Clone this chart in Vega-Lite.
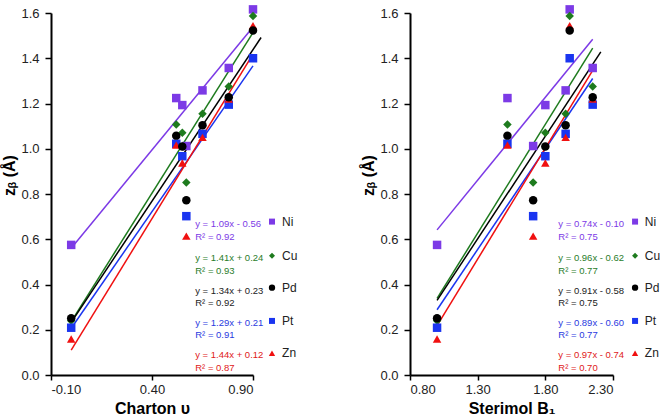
{
  "$schema": "https://vega.github.io/schema/vega-lite/v6.json",
  "padding": {"left": 1, "top": 5, "right": 0, "bottom": 0},
  "config": {
    "view": {"stroke": null},
    "font": "Liberation Sans",
    "axis": {"domainColor": "#000", "domainWidth": 2, "tickColor": "#000", "tickWidth": 1.5, "tickSize": 6, "labelFontSize": 13, "labelColor": "#222", "labelPadding": 4, "titleFontSize": 16, "titleFontWeight": "bold", "titleColor": "#000", "grid": false},
    "text": {"font": "Liberation Sans"}
  },
  "datasets": {
    "pts": [
      {"metal": "Ni", "charton": 0.00, "b1": 1.00, "z": 0.575},
      {"metal": "Ni", "charton": 0.52, "b1": 1.52, "z": 1.224},
      {"metal": "Ni", "charton": 0.55, "b1": 1.80, "z": 1.193},
      {"metal": "Ni", "charton": 0.57, "b1": 1.71, "z": 1.012},
      {"metal": "Ni", "charton": 0.65, "b1": 1.95, "z": 1.258},
      {"metal": "Ni", "charton": 0.78, "b1": 2.15, "z": 1.357},
      {"metal": "Ni", "charton": 0.90, "b1": 1.98, "z": 1.616},
      {"metal": "Cu", "charton": 0.00, "b1": 1.00, "z": 0.240},
      {"metal": "Cu", "charton": 0.52, "b1": 1.52, "z": 1.107},
      {"metal": "Cu", "charton": 0.55, "b1": 1.80, "z": 1.071},
      {"metal": "Cu", "charton": 0.57, "b1": 1.71, "z": 0.851},
      {"metal": "Cu", "charton": 0.65, "b1": 1.95, "z": 1.155},
      {"metal": "Cu", "charton": 0.78, "b1": 2.15, "z": 1.275},
      {"metal": "Cu", "charton": 0.90, "b1": 1.98, "z": 1.587},
      {"metal": "Pt", "charton": 0.00, "b1": 1.00, "z": 0.209},
      {"metal": "Pt", "charton": 0.52, "b1": 1.52, "z": 1.022},
      {"metal": "Pt", "charton": 0.55, "b1": 1.80, "z": 0.967},
      {"metal": "Pt", "charton": 0.57, "b1": 1.71, "z": 0.702},
      {"metal": "Pt", "charton": 0.65, "b1": 1.95, "z": 1.066},
      {"metal": "Pt", "charton": 0.78, "b1": 2.15, "z": 1.195},
      {"metal": "Pt", "charton": 0.90, "b1": 1.98, "z": 1.400},
      {"metal": "Zn", "charton": 0.00, "b1": 1.00, "z": 0.159},
      {"metal": "Zn", "charton": 0.52, "b1": 1.52, "z": 1.016},
      {"metal": "Zn", "charton": 0.55, "b1": 1.80, "z": 0.937},
      {"metal": "Zn", "charton": 0.57, "b1": 1.71, "z": 0.614},
      {"metal": "Zn", "charton": 0.65, "b1": 1.95, "z": 1.050},
      {"metal": "Zn", "charton": 0.78, "b1": 2.15, "z": 1.220},
      {"metal": "Zn", "charton": 0.90, "b1": 1.98, "z": 1.544},
      {"metal": "Pd", "charton": 0.00, "b1": 1.00, "z": 0.251},
      {"metal": "Pd", "charton": 0.52, "b1": 1.52, "z": 1.058},
      {"metal": "Pd", "charton": 0.55, "b1": 1.80, "z": 1.010},
      {"metal": "Pd", "charton": 0.57, "b1": 1.71, "z": 0.772},
      {"metal": "Pd", "charton": 0.65, "b1": 1.95, "z": 1.104},
      {"metal": "Pd", "charton": 0.78, "b1": 2.15, "z": 1.228},
      {"metal": "Pd", "charton": 0.90, "b1": 1.98, "z": 1.523}
    ]
  },
  "hconcat": [
    {
      "width": 202,
      "height": 362,
      "layer": [
        {
          "data": {"name": "pts"},
          "transform": [{"filter": "datum.metal !== 'Pd'"}, {"regression": "z", "on": "charton", "groupby": ["metal"]}],
          "mark": {"type": "line", "strokeWidth": 1.5, "clip": false},
          "encoding": {
            "x": {"field": "charton", "type": "quantitative", "scale": {"domain": [-0.1, 0.9], "nice": false, "zero": false}, "axis": {"title": "Charton υ", "values": [-0.1, 0.4, 0.9], "format": ".2f", "labelExpr": "replace(datum.label, '−', '-')", "tickSize": 5, "labelPadding": 3, "titlePadding": 4}},
            "y": {"field": "z", "type": "quantitative", "scale": {"domain": [0, 1.6], "nice": false}, "axis": {"title": "zᵦ (Å)", "values": [0, 0.2, 0.4, 0.6, 0.8, 1.0, 1.2, 1.4, 1.6], "format": ".1f", "labelPadding": 6, "titlePadding": 3, "titleY": 162}},
            "color": {"field": "metal", "type": "nominal", "scale": {"domain": ["Ni", "Cu", "Pd", "Pt", "Zn"], "range": ["#7c3ae6", "#1e7b1e", "#000000", "#1a35f0", "#f01010"]}, "legend": null}
          }
        },
        {
          "data": {"name": "pts"},
          "transform": [{"filter": "datum.metal === 'Pd'"}, {"regression": "z", "on": "charton", "extent": [0, 0.94]}],
          "mark": {"type": "line", "strokeWidth": 1.5, "clip": false, "color": "#000000"},
          "encoding": {"x": {"field": "charton", "type": "quantitative"}, "y": {"field": "z", "type": "quantitative"}}
        },
        {
          "data": {"name": "pts"},
          "mark": {"type": "point", "filled": true, "opacity": 1, "size": 72},
          "encoding": {
            "x": {"field": "charton", "type": "quantitative"},
            "y": {"field": "z", "type": "quantitative"},
            "color": {"field": "metal", "type": "nominal", "legend": null},
            "shape": {"field": "metal", "type": "nominal", "scale": {"domain": ["Ni", "Cu", "Pd", "Pt", "Zn"], "range": ["square", "diamond", "circle", "square", "triangle-up"]}, "legend": null}
          }
        },
        {"data": {"values": [{"t": "y = 1.09x - 0.56\nR² = 0.92"}]}, "mark": {"type": "text", "align": "left", "baseline": "middle", "fontSize": 9.5, "lineHeight": 12.5, "lineBreak": "\n", "color": "#7c3ae6"}, "encoding": {"text": {"field": "t"}, "x": {"datum": 0.614}, "y": {"datum": 0.666}}},
        {"data": {"values": [{"t": "y = 1.41x + 0.24\nR² = 0.93"}]}, "mark": {"type": "text", "align": "left", "baseline": "middle", "fontSize": 9.5, "lineHeight": 12.5, "lineBreak": "\n", "color": "#2a7d2a"}, "encoding": {"text": {"field": "t"}, "x": {"datum": 0.614}, "y": {"datum": 0.515}}},
        {"data": {"values": [{"t": "y = 1.34x + 0.23\nR² = 0.92"}]}, "mark": {"type": "text", "align": "left", "baseline": "middle", "fontSize": 9.5, "lineHeight": 12.5, "lineBreak": "\n", "color": "#222222"}, "encoding": {"text": {"field": "t"}, "x": {"datum": 0.614}, "y": {"datum": 0.372}}},
        {"data": {"values": [{"t": "y = 1.29x + 0.21\nR² = 0.91"}]}, "mark": {"type": "text", "align": "left", "baseline": "middle", "fontSize": 9.5, "lineHeight": 12.5, "lineBreak": "\n", "color": "#2a3ae0"}, "encoding": {"text": {"field": "t"}, "x": {"datum": 0.614}, "y": {"datum": 0.230}}},
        {"data": {"values": [{"t": "y = 1.44x + 0.12\nR² = 0.87"}]}, "mark": {"type": "text", "align": "left", "baseline": "middle", "fontSize": 9.5, "lineHeight": 12.5, "lineBreak": "\n", "color": "#e02020"}, "encoding": {"text": {"field": "t"}, "x": {"datum": 0.614}, "y": {"datum": 0.087}}},
        {"data": {"values": [{"metal": "Ni"}]}, "layer": [
          {"mark": {"type": "point", "shape": "square", "filled": true, "opacity": 1, "size": 36, "color": "#7c3ae6"}, "encoding": {"x": {"datum": 0.994}, "y": {"datum": 0.678}}},
          {"mark": {"type": "text", "align": "left", "baseline": "middle", "fontSize": 12, "color": "#222"}, "encoding": {"text": {"field": "metal"}, "x": {"datum": 1.044}, "y": {"datum": 0.678}}}]},
        {"data": {"values": [{"metal": "Cu"}]}, "layer": [
          {"mark": {"type": "point", "shape": "diamond", "filled": true, "opacity": 1, "size": 36, "color": "#1e7b1e"}, "encoding": {"x": {"datum": 0.994}, "y": {"datum": 0.527}}},
          {"mark": {"type": "text", "align": "left", "baseline": "middle", "fontSize": 12, "color": "#222"}, "encoding": {"text": {"field": "metal"}, "x": {"datum": 1.044}, "y": {"datum": 0.527}}}]},
        {"data": {"values": [{"metal": "Pd"}]}, "layer": [
          {"mark": {"type": "point", "shape": "circle", "filled": true, "opacity": 1, "size": 40, "color": "#000000"}, "encoding": {"x": {"datum": 0.994}, "y": {"datum": 0.386}}},
          {"mark": {"type": "text", "align": "left", "baseline": "middle", "fontSize": 12, "color": "#222"}, "encoding": {"text": {"field": "metal"}, "x": {"datum": 1.044}, "y": {"datum": 0.386}}}]},
        {"data": {"values": [{"metal": "Pt"}]}, "layer": [
          {"mark": {"type": "point", "shape": "square", "filled": true, "opacity": 1, "size": 36, "color": "#1a35f0"}, "encoding": {"x": {"datum": 0.994}, "y": {"datum": 0.239}}},
          {"mark": {"type": "text", "align": "left", "baseline": "middle", "fontSize": 12, "color": "#222"}, "encoding": {"text": {"field": "metal"}, "x": {"datum": 1.044}, "y": {"datum": 0.239}}}]},
        {"data": {"values": [{"metal": "Zn"}]}, "layer": [
          {"mark": {"type": "point", "shape": "triangle-up", "filled": true, "opacity": 1, "size": 40, "color": "#f01010"}, "encoding": {"x": {"datum": 0.994}, "y": {"datum": 0.096}}},
          {"mark": {"type": "text", "align": "left", "baseline": "middle", "fontSize": 12, "color": "#222"}, "encoding": {"text": {"field": "metal"}, "x": {"datum": 1.044}, "y": {"datum": 0.096}}}]}
      ]
    },
    {
      "width": 203,
      "height": 362,
      "layer": [
        {
          "data": {"name": "pts"},
          "transform": [{"filter": "datum.metal !== 'Pd'"}, {"regression": "z", "on": "b1", "groupby": ["metal"]}],
          "mark": {"type": "line", "strokeWidth": 1.5, "clip": false},
          "encoding": {
            "x": {"field": "b1", "type": "quantitative", "scale": {"domain": [0.8, 2.3], "nice": false, "zero": false}, "axis": {"title": "Sterimol B₁", "values": [0.8, 1.3, 1.8, 2.3], "format": ".2f", "tickSize": 5, "labelPadding": 3, "titlePadding": 4}},
            "y": {"field": "z", "type": "quantitative", "scale": {"domain": [0, 1.6], "nice": false}, "axis": {"title": "zᵦ (Å)", "values": [0, 0.2, 0.4, 0.6, 0.8, 1.0, 1.2, 1.4, 1.6], "format": ".1f", "labelPadding": 6, "titlePadding": 3, "titleY": 162}},
            "color": {"field": "metal", "type": "nominal", "scale": {"domain": ["Ni", "Cu", "Pd", "Pt", "Zn"], "range": ["#7c3ae6", "#1e7b1e", "#000000", "#1a35f0", "#f01010"]}, "legend": null}
          }
        },
        {
          "data": {"name": "pts"},
          "transform": [{"filter": "datum.metal === 'Pd'"}, {"regression": "z", "on": "b1", "extent": [1.0, 2.21]}],
          "mark": {"type": "line", "strokeWidth": 1.5, "clip": false, "color": "#000000"},
          "encoding": {"x": {"field": "b1", "type": "quantitative"}, "y": {"field": "z", "type": "quantitative"}}
        },
        {
          "data": {"name": "pts"},
          "mark": {"type": "point", "filled": true, "opacity": 1, "size": 72},
          "encoding": {
            "x": {"field": "b1", "type": "quantitative"},
            "y": {"field": "z", "type": "quantitative"},
            "color": {"field": "metal", "type": "nominal", "legend": null},
            "shape": {"field": "metal", "type": "nominal", "scale": {"domain": ["Ni", "Cu", "Pd", "Pt", "Zn"], "range": ["square", "diamond", "circle", "square", "triangle-up"]}, "legend": null}
          }
        },
        {"data": {"values": [{"t": "y = 0.74x - 0.10\nR² = 0.75"}]}, "mark": {"type": "text", "align": "left", "baseline": "middle", "fontSize": 9.5, "lineHeight": 12.5, "lineBreak": "\n", "color": "#7c3ae6"}, "encoding": {"text": {"field": "t"}, "x": {"datum": 1.896}, "y": {"datum": 0.666}}},
        {"data": {"values": [{"t": "y = 0.96x - 0.62\nR² = 0.77"}]}, "mark": {"type": "text", "align": "left", "baseline": "middle", "fontSize": 9.5, "lineHeight": 12.5, "lineBreak": "\n", "color": "#2a7d2a"}, "encoding": {"text": {"field": "t"}, "x": {"datum": 1.896}, "y": {"datum": 0.515}}},
        {"data": {"values": [{"t": "y = 0.91x - 0.58\nR² = 0.75"}]}, "mark": {"type": "text", "align": "left", "baseline": "middle", "fontSize": 9.5, "lineHeight": 12.5, "lineBreak": "\n", "color": "#222222"}, "encoding": {"text": {"field": "t"}, "x": {"datum": 1.896}, "y": {"datum": 0.372}}},
        {"data": {"values": [{"t": "y = 0.89x - 0.60\nR² = 0.77"}]}, "mark": {"type": "text", "align": "left", "baseline": "middle", "fontSize": 9.5, "lineHeight": 12.5, "lineBreak": "\n", "color": "#2a3ae0"}, "encoding": {"text": {"field": "t"}, "x": {"datum": 1.896}, "y": {"datum": 0.230}}},
        {"data": {"values": [{"t": "y = 0.97x - 0.74\nR² = 0.70"}]}, "mark": {"type": "text", "align": "left", "baseline": "middle", "fontSize": 9.5, "lineHeight": 12.5, "lineBreak": "\n", "color": "#e02020"}, "encoding": {"text": {"field": "t"}, "x": {"datum": 1.896}, "y": {"datum": 0.087}}},
        {"data": {"values": [{"metal": "Ni"}]}, "layer": [
          {"mark": {"type": "point", "shape": "square", "filled": true, "opacity": 1, "size": 36, "color": "#7c3ae6"}, "encoding": {"x": {"datum": 2.463}, "y": {"datum": 0.678}}},
          {"mark": {"type": "text", "align": "left", "baseline": "middle", "fontSize": 12, "color": "#222"}, "encoding": {"text": {"field": "metal"}, "x": {"datum": 2.535}, "y": {"datum": 0.678}}}]},
        {"data": {"values": [{"metal": "Cu"}]}, "layer": [
          {"mark": {"type": "point", "shape": "diamond", "filled": true, "opacity": 1, "size": 36, "color": "#1e7b1e"}, "encoding": {"x": {"datum": 2.463}, "y": {"datum": 0.527}}},
          {"mark": {"type": "text", "align": "left", "baseline": "middle", "fontSize": 12, "color": "#222"}, "encoding": {"text": {"field": "metal"}, "x": {"datum": 2.535}, "y": {"datum": 0.527}}}]},
        {"data": {"values": [{"metal": "Pd"}]}, "layer": [
          {"mark": {"type": "point", "shape": "circle", "filled": true, "opacity": 1, "size": 40, "color": "#000000"}, "encoding": {"x": {"datum": 2.463}, "y": {"datum": 0.386}}},
          {"mark": {"type": "text", "align": "left", "baseline": "middle", "fontSize": 12, "color": "#222"}, "encoding": {"text": {"field": "metal"}, "x": {"datum": 2.535}, "y": {"datum": 0.386}}}]},
        {"data": {"values": [{"metal": "Pt"}]}, "layer": [
          {"mark": {"type": "point", "shape": "square", "filled": true, "opacity": 1, "size": 36, "color": "#1a35f0"}, "encoding": {"x": {"datum": 2.463}, "y": {"datum": 0.239}}},
          {"mark": {"type": "text", "align": "left", "baseline": "middle", "fontSize": 12, "color": "#222"}, "encoding": {"text": {"field": "metal"}, "x": {"datum": 2.535}, "y": {"datum": 0.239}}}]},
        {"data": {"values": [{"metal": "Zn"}]}, "layer": [
          {"mark": {"type": "point", "shape": "triangle-up", "filled": true, "opacity": 1, "size": 40, "color": "#f01010"}, "encoding": {"x": {"datum": 2.463}, "y": {"datum": 0.096}}},
          {"mark": {"type": "text", "align": "left", "baseline": "middle", "fontSize": 12, "color": "#222"}, "encoding": {"text": {"field": "metal"}, "x": {"datum": 2.535}, "y": {"datum": 0.096}}}]}
      ]
    }
  ],
  "spacing": 157,
  "bounds": "flush",
  "resolve": {"scale": {"color": "independent", "shape": "independent"}}
}
